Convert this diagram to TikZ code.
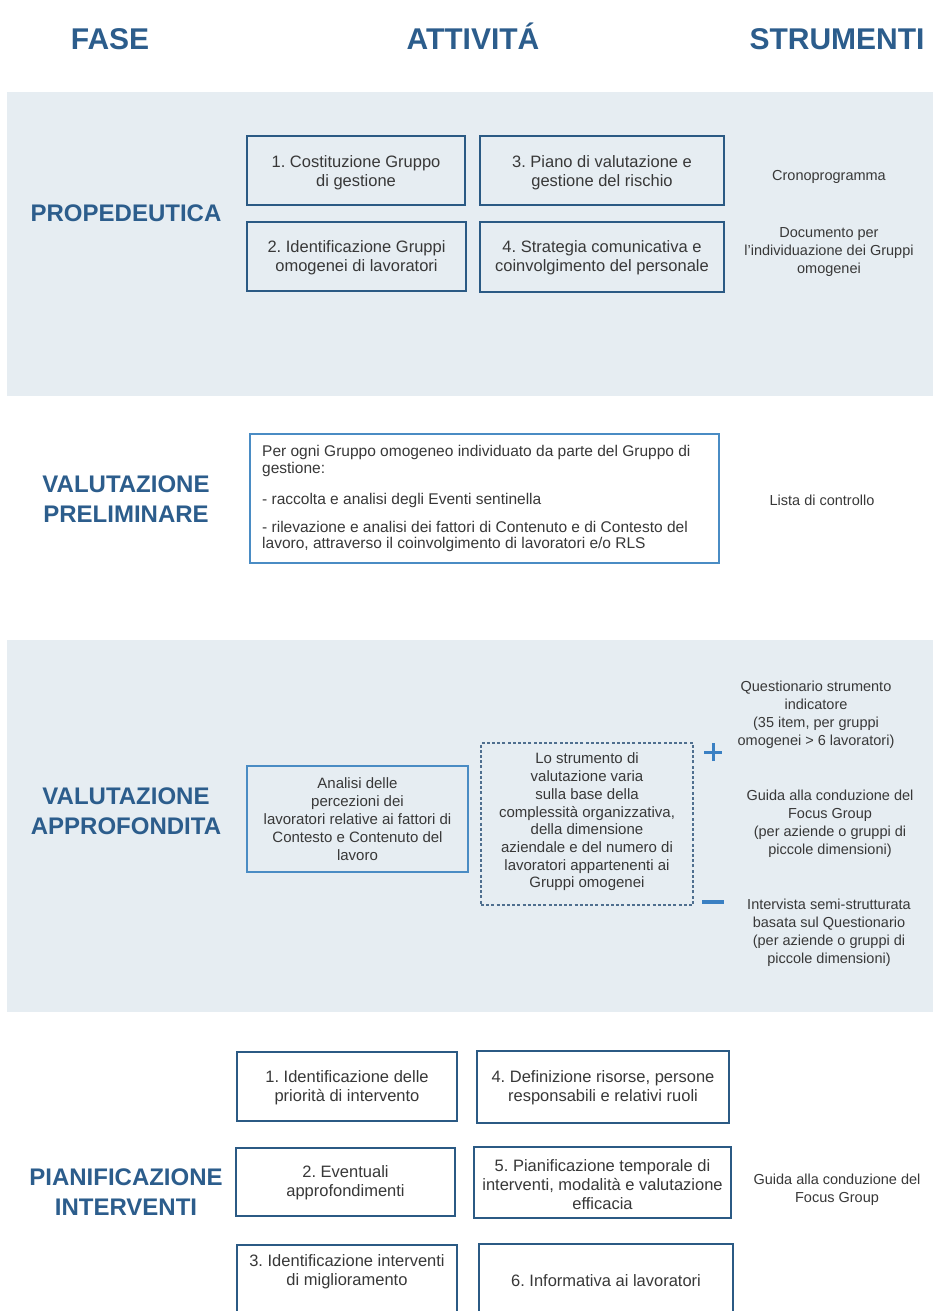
\documentclass[tikz,border=0pt]{standalone}
\usepackage{fontspec}
\setmainfont{Liberation Sans}
\frenchspacing
\definecolor{hblue}{HTML}{2C5D8C}
\definecolor{bdark}{HTML}{2B5A84}
\definecolor{lblue}{HTML}{4A8CC4}
\definecolor{band}{HTML}{E6EDF2}
\definecolor{tgray}{HTML}{383838}
\definecolor{pm}{HTML}{3A80C3}
\definecolor{dashc}{HTML}{4F6F8F}
\begin{document}
\begin{tikzpicture}[x=1pt,y=-1pt,
  hdr/.style={font=\fontsize{30}{36}\selectfont\bfseries, text=hblue, inner sep=0pt, anchor=base},
  phase/.style={font=\fontsize{24}{30}\selectfont\bfseries, text=hblue, align=center, inner sep=0pt},
  actbox/.style={draw=bdark, line width=2.8pt, inner sep=0pt},
  acttxt/.style={font=\fontsize{16.5}{19}\selectfont, text=tgray, align=center},
  tooltxt/.style={font=\fontsize{14.5}{18}\selectfont, text=tgray, align=center, inner sep=0pt},
  thinbox/.style={draw=lblue, line width=1.1pt, inner sep=0pt},
  pmline/.style={draw=pm, line width=3pt}
]
\useasboundingbox (0,0) rectangle (933,1311);
\clip (0,0) rectangle (933,1311);
\fill[white] (0,0) rectangle (933,1311);

% bands
\fill[band] (7,92) rectangle (933,396);
\fill[band] (7,640) rectangle (933,1012);

% headers
\node[hdr] (hfase) at (110,50) {FASE};
\node[hdr] (hatt) at (473,50) {ATTIVITÁ};
\node[hdr] (hstr) at (837,50) {STRUMENTI};

% PROPEDEUTICA
\node[phase] (pprop) at (126,213) {PROPEDEUTICA};
\node[actbox, minimum width=218pt, minimum height=69pt] (a1) at (356,170.5) {};
\node[acttxt] (a1t) at (356,172.5) {1. Costituzione Gruppo\\di gestione};
\node[actbox, minimum width=244pt, minimum height=69pt] (a3) at (602,170.5) {};
\node[acttxt] (a3t) at (602,172.5) {3. Piano di valutazione e\\gestione del rischio};
\node[actbox, minimum width=219pt, minimum height=69pt] (a2) at (356.5,256.5) {};
\node[acttxt] (a2t) at (356.5,257.5) {2. Identificazione Gruppi\\omogenei di lavoratori};
\node[actbox, minimum width=244pt, minimum height=70pt] (a4) at (602,257) {};
\node[acttxt] (a4t) at (602,257.5) {4. Strategia comunicativa e\\coinvolgimento del personale};
\node[tooltxt] (s1) at (829,177) {Cronoprogramma};
\node[tooltxt] (s2) at (829,252) {Documento per\\l'individuazione dei Gruppi\\omogenei};

% VALUTAZIONE PRELIMINARE
\node[phase] (pprel) at (126,499) {VALUTAZIONE\\PRELIMINARE};
\node[thinbox, fill=white, minimum width=469pt, minimum height=129pt] (pbox) at (484.5,498.5) {};
\node[font=\fontsize{15.5}{16.5}\selectfont, text=tgray, align=left, inner sep=0pt, anchor=west] (ptxt) at (262,498.5)
  {Per ogni Gruppo omogeneo individuato da parte del Gruppo di\\gestione:\\[15pt]- raccolta e analisi degli Eventi sentinella\\[11pt]- rilevazione e analisi dei fattori di Contenuto e di Contesto del\\lavoro, attraverso il coinvolgimento di lavoratori e/o RLS};
\node[tooltxt] (s3) at (822,500) {Lista di controllo};

% VALUTAZIONE APPROFONDITA
\node[phase] (pappr) at (126,811) {VALUTAZIONE\\APPROFONDITA};
\node[thinbox, minimum width=221pt, minimum height=106pt] (abox) at (357.5,819) {};
\node[font=\fontsize{15}{18}\selectfont, text=tgray, align=center, inner sep=0pt] (atxt) at (357.5,819)
  {Analisi delle\\percezioni dei\\lavoratori relative ai fattori di\\Contesto e Contenuto del\\lavoro};
\node[draw=dashc, line width=1.3pt, dash pattern=on 3pt off 2.2pt, minimum width=212pt, minimum height=162pt, inner sep=0pt] (dbox) at (587,824) {};
\node[font=\fontsize{15}{17.7}\selectfont, text=tgray, align=center, inner sep=0pt] (dtxt) at (587,822)
  {Lo strumento di\\valutazione varia\\sulla base della\\complessità organizzativa,\\della dimensione\\aziendale e del numero di\\lavoratori appartenenti ai\\Gruppi omogenei};
\coordinate (plusc) at (713,752);
\coordinate (minusc) at (713,902);
\draw[pmline] ([xshift=-9pt]plusc) -- ([xshift=9pt]plusc);
\draw[pmline] ([yshift=-9pt]plusc) -- ([yshift=9pt]plusc);
\draw[pmline, line width=3.6pt] ([xshift=-11pt]minusc) -- ([xshift=11pt]minusc);
\node[tooltxt] (s4) at (816,714.5) {Questionario strumento\\indicatore\\(35 item, per gruppi\\omogenei > 6 lavoratori)};
\node[tooltxt] (s5) at (830,824) {Guida alla conduzione del\\Focus Group\\(per aziende o gruppi di\\piccole dimensioni)};
\node[tooltxt] (s6) at (829,933) {Intervista semi-strutturata\\basata sul Questionario\\(per aziende o gruppi di\\piccole dimensioni)};

% PIANIFICAZIONE INTERVENTI
\node[phase] (ppian) at (126,1192) {PIANIFICAZIONE\\INTERVENTI};
\node[actbox, minimum width=220pt, minimum height=69pt] (b1) at (347,1086.5) {};
\node[acttxt] (b1t) at (347,1087.5) {1. Identificazione delle\\priorità di intervento};
\node[actbox, minimum width=252pt, minimum height=72pt] (b4) at (603,1087) {};
\node[acttxt] (b4t) at (603,1087.5) {4. Definizione risorse, persone\\responsabili e relativi ruoli};
\node[actbox, minimum width=219pt, minimum height=68pt] (b2) at (345.5,1182) {};
\node[acttxt] (b2t) at (345.5,1183) {2. Eventuali\\approfondimenti};
\node[actbox, minimum width=257pt, minimum height=71pt] (b5) at (602.5,1182.5) {};
\node[acttxt] (b5t) at (602.5,1185) {5. Pianificazione temporale di\\interventi, modalità e valutazione\\efficacia};
\node[actbox, minimum width=220pt, minimum height=80pt] (b3) at (347,1285) {};
\node[acttxt] (b3t) at (347,1272) {3. Identificazione interventi\\di miglioramento};
\node[actbox, minimum width=254pt, minimum height=80pt] (b6) at (606,1284) {};
\node[acttxt] (b6t) at (606,1281) {6. Informativa ai lavoratori};
\node[tooltxt] (s7) at (837,1190) {Guida alla conduzione del\\Focus Group};
\end{tikzpicture}
\end{document}
